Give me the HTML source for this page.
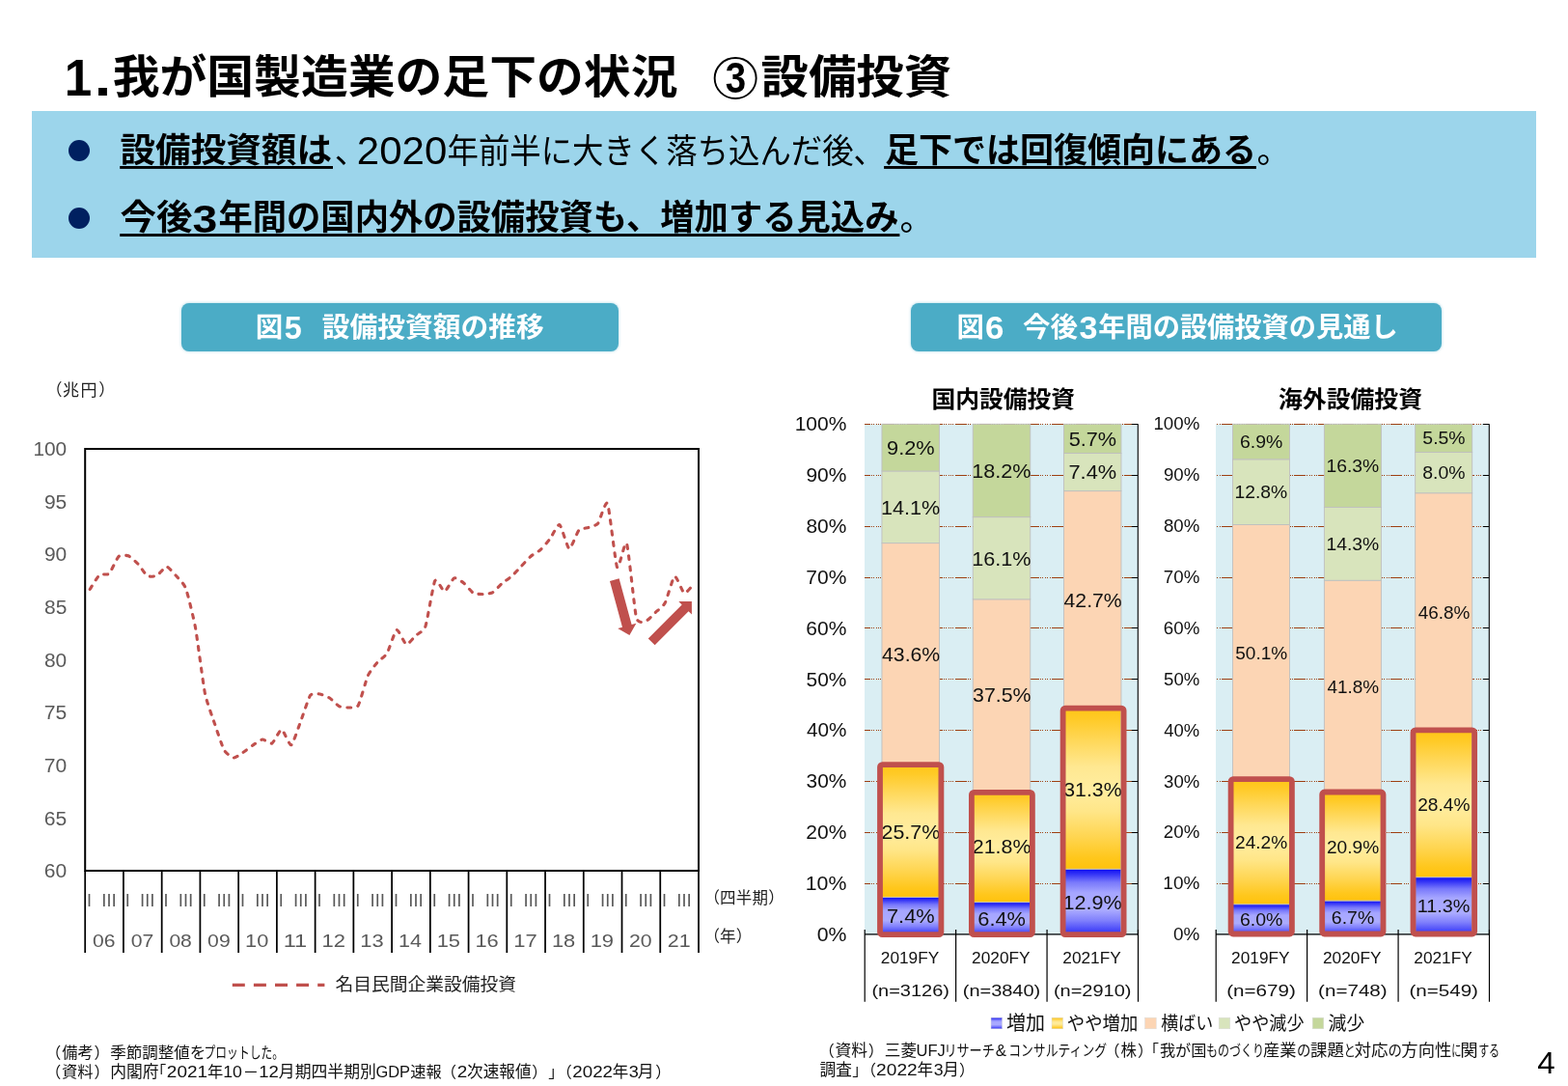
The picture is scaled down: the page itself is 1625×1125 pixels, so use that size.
<!DOCTYPE html>
<html lang="ja"><head><meta charset="utf-8"><title>1.我が国製造業の足下の状況 ③設備投資</title>
<style>
html,body{margin:0;padding:0;background:#fff}
body{width:1625px;height:1125px;overflow:hidden;font-family:"Liberation Sans","Noto Sans CJK JP",sans-serif}
.slide{position:relative;width:1625px;height:1125px;background:#fff;overflow:hidden}
.pg{position:absolute;left:0;top:0;width:1625px;height:1125px;overflow:visible;will-change:transform}
.pg text{font-family:"Liberation Sans","Noto Sans CJK JP",sans-serif;white-space:pre}
.summary{position:absolute;left:33px;top:115px;width:1559px;height:152px;background:#9CD5EB}
.dot{position:absolute;left:38.2px;width:22px;height:22px;border-radius:50%;background:#002060}
.cap{position:absolute;top:314px;height:49.5px;border-radius:8px;background:#4BACC6;box-shadow:0 0 3px rgba(75,172,198,.55)}
h1,h2,p,ul,li,figure,figcaption,footer{margin:0;padding:0;list-style:none;font-weight:normal;font-size:0}
</style></head>
<body><main class="slide">
<svg width="0" height="0" style="position:absolute"><defs><linearGradient id="gy" x1="0" y1="0" x2="0" y2="1"><stop offset="0" stop-color="#FFC619"/><stop offset="0.06" stop-color="#FFCA26"/><stop offset="0.2" stop-color="#FFD85A"/><stop offset="0.36" stop-color="#FFE891"/><stop offset="0.5" stop-color="#FFEDA0"/><stop offset="0.64" stop-color="#FFE688"/><stop offset="0.8" stop-color="#FFD550"/><stop offset="0.93" stop-color="#FFC71C"/><stop offset="1" stop-color="#FFC20C"/></linearGradient><linearGradient id="gb" x1="0" y1="0" x2="0" y2="1"><stop offset="0" stop-color="#0C0CF2"/><stop offset="0.07" stop-color="#3030F6"/><stop offset="0.2" stop-color="#7878FB"/><stop offset="0.36" stop-color="#A6A6FF"/><stop offset="0.62" stop-color="#ABABFF"/><stop offset="0.78" stop-color="#8080FC"/><stop offset="0.92" stop-color="#4A4AF9"/><stop offset="1" stop-color="#2A2AF4"/></linearGradient></defs></svg>
<h1><svg class="pg" viewBox="0 0 1625 1125" width="1625" height="1125"><g fill="#000" role="img" aria-label="1.我が国製造業の足下の状況 ③設備投資"><desc>1.我が国製造業の足下の状況 ③設備投資</desc><text x="66.78" y="98.9" font-size="53.42" textLength="28.45" lengthAdjust="spacingAndGlyphs" fill="#000" font-weight="700">1</text><text x="97.82" y="98.9" font-size="53.42" textLength="17.52" lengthAdjust="spacingAndGlyphs" fill="#000" font-weight="700">.</text><text x="116.66" y="96.27" font-size="47" textLength="585.8" lengthAdjust="spacingAndGlyphs" fill="#000" font-weight="700">我が国製造業の足下の状況</text><text x="788.53" y="96.27" font-size="47" textLength="197.7" lengthAdjust="spacingAndGlyphs" fill="#000" font-weight="700">設備投資</text><ellipse cx="762.15" cy="81.05" rx="21.5" ry="21.0" fill="none" stroke="#000" stroke-width="1.9"/><text x="751.72" y="96.3" font-size="43.54" textLength="21.37" lengthAdjust="spacingAndGlyphs" fill="#000" font-weight="700">3</text></g></svg></h1>
<section class="summary"><i class="dot" style="top:30px"></i><i class="dot" style="top:100px"></i></section>
<ul><li><svg class="pg" viewBox="0 0 1625 1125" width="1625" height="1125"><g fill="#000" role="img" aria-label="設備投資額は、2020年前半に大きく落ち込んだ後、足下では回復傾向にある。"><desc>設備投資額は、2020年前半に大きく落ち込んだ後、足下では回復傾向にある。</desc><text x="124.53" y="168.21" font-size="35.5" textLength="219.5" lengthAdjust="spacingAndGlyphs" fill="#000" font-weight="700">設備投資額は</text><text x="346.8" y="168.55" font-size="34" fill="#000">、</text><text x="369.89" y="170" font-size="40.1" textLength="93.35" lengthAdjust="spacingAndGlyphs" fill="#000">2020</text><text x="463.5" y="168.55" font-size="35" textLength="453.5" lengthAdjust="spacingAndGlyphs" fill="#000">年前半に大きく落ち込んだ後、</text><text x="917.07" y="168.21" font-size="35.5" textLength="385" lengthAdjust="spacingAndGlyphs" fill="#000" font-weight="700">足下では回復傾向にある</text><text x="1302.48" y="168.55" font-size="35" fill="#000">。</text><rect x="124.2" y="172" width="220.8" height="2.9"/><rect x="916.1" y="172" width="385.8" height="2.9"/></g></svg></li><li><svg class="pg" viewBox="0 0 1625 1125" width="1625" height="1125"><g fill="#000" role="img" aria-label="今後3年間の国内外の設備投資も、増加する見込み。"><desc>今後3年間の国内外の設備投資も、増加する見込み。</desc><text x="124.5" y="238.13" font-size="36" textLength="75" lengthAdjust="spacingAndGlyphs" fill="#000" font-weight="700">今後</text><text x="199.54" y="240.8" font-size="41.53" textLength="25.73" lengthAdjust="spacingAndGlyphs" fill="#000" font-weight="700">3</text><text x="226.45" y="238.13" font-size="36" textLength="705" lengthAdjust="spacingAndGlyphs" fill="#000" font-weight="700">年間の国内外の設備投資も、増加する見込み</text><text x="932.48" y="238.55" font-size="35" fill="#000">。</text><rect x="124.2" y="242.1" width="808.2" height="2.9"/></g></svg></li></ul>
<figure id="fig5"><figcaption><div class="cap" style="left:188px;width:453px"></div><svg class="pg" viewBox="0 0 1625 1125" width="1625" height="1125"><g fill="#fff" role="img" aria-label="図5 設備投資額の推移"><desc>図5 設備投資額の推移</desc><text x="264.66" y="348.56" font-size="28" textLength="28.5" lengthAdjust="spacingAndGlyphs" fill="#fff" font-weight="700">図</text><text x="294.8" y="350.6" font-size="32.37" textLength="18" lengthAdjust="spacingAndGlyphs" fill="#fff" font-weight="700">5</text><text x="333.85" y="348.56" font-size="28" textLength="230" lengthAdjust="spacingAndGlyphs" fill="#fff" font-weight="700">設備投資額の推移</text></g></svg></figcaption>
<svg class="pg" viewBox="0 0 1625 1125" width="1625" height="1125"><rect x="88.2" y="465" width="635.8" height="437" fill="#fff" stroke="#000" stroke-width="2"/><path d="M88.2 902V987M127.94 902V987M167.68 902V987M207.41 902V987M247.15 902V987M286.89 902V987M326.62 902V987M366.36 902V987M406.1 902V987M445.84 902V987M485.57 902V987M525.31 902V987M565.05 902V987M604.79 902V987M644.52 902V987M684.26 902V987M724 902V987" stroke="#000" stroke-width="1.75" fill="none"/><path d="M93.17 610.5C94.08 609.12 101.28 596.99 103.1 595.5C104.92 594.01 111.21 596.04 113.04 594.3C114.86 592.56 121.15 578.2 122.97 576.5C124.79 574.8 131.08 575.11 132.9 575.8C134.73 576.49 141.02 582.09 142.84 584C144.66 585.91 150.95 595.48 152.77 596.6C154.59 597.72 160.89 597.08 162.71 596.2C164.53 595.32 170.82 586.96 172.64 587C174.46 587.04 180.76 594.55 182.58 596.6C184.4 598.65 190.69 604.52 192.51 609.4C194.33 614.28 200.62 639.84 202.45 649.8C204.27 659.75 210.56 708.89 212.38 718C214.2 727.11 220.49 743.79 222.31 749.2C224.14 754.61 230.43 773.72 232.25 777C234.07 780.28 240.36 784.79 242.18 785C244 785.21 250.3 780.49 252.12 779.3C253.94 778.11 260.23 773.22 262.05 772C263.87 770.78 270.16 766.18 271.99 766C273.81 765.82 280.1 770.94 281.92 770C283.74 769.06 290.03 755.54 291.85 755.7C293.68 755.87 299.97 772.6 301.79 771.8C303.61 771 309.9 751.73 311.72 747C313.54 742.27 319.84 722.77 321.66 720.2C323.48 717.63 329.77 718.74 331.59 719C333.41 719.26 339.71 721.85 341.53 723C343.35 724.15 349.64 730.68 351.46 731.6C353.28 732.52 359.57 733.09 361.4 733C363.22 732.91 369.51 733.62 371.33 730.6C373.15 727.58 379.44 704.09 381.26 700C383.09 695.91 389.38 688.13 391.2 686C393.02 683.87 399.31 679.87 401.13 676.8C402.95 673.73 409.25 653.35 411.07 652.5C412.89 651.65 419.18 666.97 421 667.5C422.82 668.03 429.11 660 430.94 658.3C432.76 656.6 439.05 654.2 440.87 649C442.69 643.8 448.98 604.93 450.8 601.6C452.63 598.27 458.92 612.96 460.74 612.7C462.56 612.44 468.85 599.6 470.67 598.8C472.49 598 478.79 602.58 480.61 604C482.43 605.42 488.72 613.25 490.54 614.3C492.36 615.35 498.66 615.55 500.48 615.5C502.3 615.45 508.59 614.83 510.41 613.8C512.23 612.77 518.52 605.84 520.35 604.3C522.17 602.76 528.46 598.62 530.28 597C532.1 595.38 538.39 588.51 540.21 586.6C542.04 584.69 548.33 577.76 550.15 576.2C551.97 574.64 558.26 571.25 560.08 569.6C561.9 567.95 568.2 560.58 570.02 558.2C571.84 555.82 578.13 542.67 579.95 543.6C581.77 544.53 588.06 567.87 589.89 568.4C591.71 568.93 598 551.41 599.82 549.4C601.64 547.39 607.93 547.16 609.75 546.5C611.58 545.84 617.87 544.49 619.69 542.2C621.51 539.91 627.8 517.34 629.62 521.5C631.44 525.66 637.74 583.8 639.56 587.6C641.38 591.4 647.67 558.23 649.49 563C651.31 567.77 657.61 632.23 659.43 639.6C661.25 646.97 667.54 643.88 669.36 643.4C671.18 642.92 677.47 636.12 679.3 634.4C681.12 632.68 687.41 628.03 689.23 624.6C691.05 621.17 697.34 597.94 699.16 597C700.99 596.06 707.28 613.67 709.1 614.4C710.92 615.13 718.12 605.86 719.03 605" fill="none" stroke="#C0504D" stroke-width="3.1" stroke-linecap="round" stroke-linejoin="round" stroke-dasharray="4 7.3"/><polygon fill="#C0504D" points="631.98,601.91 644.97,649.66 640.25,650.95 652.4,657.9 659.35,645.75 654.62,647.03 641.62,599.29"/><polygon fill="#C0504D" points="678.64,668.32 713.57,633.23 716.93,636.58 716.9,623 703.32,623.03 706.69,626.38 671.76,661.48"/><path d="M240.8 1020.4H336.4" stroke="#C0504D" stroke-width="3.2" stroke-dasharray="13 9.1" fill="none"/><g aria-label="y-axis"><text x="34.41" y="472.05" font-size="19.62" textLength="34.8" lengthAdjust="spacingAndGlyphs" fill="#595959">100</text><text x="45.92" y="526.71" font-size="19.62" textLength="23.37" lengthAdjust="spacingAndGlyphs" fill="#595959">95</text><text x="45.92" y="581.37" font-size="19.62" textLength="23.3" lengthAdjust="spacingAndGlyphs" fill="#595959">90</text><text x="45.99" y="636.03" font-size="19.62" textLength="23.29" lengthAdjust="spacingAndGlyphs" fill="#595959">85</text><text x="45.99" y="690.69" font-size="19.62" textLength="23.22" lengthAdjust="spacingAndGlyphs" fill="#595959">80</text><text x="45.82" y="745.35" font-size="19.62" textLength="23.47" lengthAdjust="spacingAndGlyphs" fill="#595959">75</text><text x="45.82" y="800.01" font-size="19.62" textLength="23.4" lengthAdjust="spacingAndGlyphs" fill="#595959">70</text><text x="45.83" y="854.67" font-size="19.62" textLength="23.46" lengthAdjust="spacingAndGlyphs" fill="#595959">65</text><text x="45.83" y="909.33" font-size="19.62" textLength="23.39" lengthAdjust="spacingAndGlyphs" fill="#595959">60</text></g><g fill="#595959" role="img" aria-label="四半期 Ⅰ Ⅲ"><desc>Ⅰ Ⅲ</desc><text y="938.97" font-size="17.5" fill="#595959" x="83.79 104.3 123.53 144.04 163.27 183.77 203.01 223.51 242.74 263.25 282.48 302.99 322.22 342.72 361.96 382.46 401.69 422.2 441.43 461.94 481.17 501.67 520.91 541.41 560.64 581.15 600.38 620.89 640.12 660.62 679.86 700.36">ⅠⅢⅠⅢⅠⅢⅠⅢⅠⅢⅠⅢⅠⅢⅠⅢⅠⅢⅠⅢⅠⅢⅠⅢⅠⅢⅠⅢⅠⅢⅠⅢ</text></g><g aria-label="years"><text x="95.93" y="980.7" font-size="19.05" textLength="23.45" lengthAdjust="spacingAndGlyphs" fill="#595959">06</text><text x="135.66" y="980.7" font-size="19.05" textLength="23.6" lengthAdjust="spacingAndGlyphs" fill="#595959">07</text><text x="175.4" y="980.7" font-size="19.05" textLength="23.44" lengthAdjust="spacingAndGlyphs" fill="#595959">08</text><text x="215.14" y="980.7" font-size="19.05" textLength="23.53" lengthAdjust="spacingAndGlyphs" fill="#595959">09</text><text x="254.04" y="980.7" font-size="19.05" textLength="24.21" lengthAdjust="spacingAndGlyphs" fill="#595959">10</text><text x="293.76" y="980.7" font-size="19.05" textLength="24.45" lengthAdjust="spacingAndGlyphs" fill="#595959">11</text><text x="333.5" y="980.7" font-size="19.05" textLength="24.48" lengthAdjust="spacingAndGlyphs" fill="#595959">12</text><text x="373.25" y="980.7" font-size="19.05" textLength="24.33" lengthAdjust="spacingAndGlyphs" fill="#595959">13</text><text x="413.01" y="980.7" font-size="19.05" textLength="23.97" lengthAdjust="spacingAndGlyphs" fill="#595959">14</text><text x="452.72" y="980.7" font-size="19.05" textLength="24.28" lengthAdjust="spacingAndGlyphs" fill="#595959">15</text><text x="492.46" y="980.7" font-size="19.05" textLength="24.33" lengthAdjust="spacingAndGlyphs" fill="#595959">16</text><text x="532.19" y="980.7" font-size="19.05" textLength="24.48" lengthAdjust="spacingAndGlyphs" fill="#595959">17</text><text x="571.93" y="980.7" font-size="19.05" textLength="24.32" lengthAdjust="spacingAndGlyphs" fill="#595959">18</text><text x="611.67" y="980.7" font-size="19.05" textLength="24.41" lengthAdjust="spacingAndGlyphs" fill="#595959">19</text><text x="652.01" y="980.7" font-size="19.05" textLength="23.6" lengthAdjust="spacingAndGlyphs" fill="#595959">20</text><text x="691.74" y="980.7" font-size="19.05" textLength="23.82" lengthAdjust="spacingAndGlyphs" fill="#595959">21</text></g><g fill="#222" role="img" aria-label="（兆円）"><desc>（兆円）</desc><text y="410.27" font-size="17" fill="#222" x="47.5 64.91 83.55 102.19">（兆円）</text></g><g fill="#222" role="img" aria-label="（四半期）"><desc>（四半期）</desc><text y="936.37" font-size="16.5" fill="#222" x="729.6 746.02 762.74 779.46 796.18">（四半期）</text></g><g fill="#222" role="img" aria-label="（年）"><desc>（年）</desc><text y="976.37" font-size="16.5" fill="#222" x="729.6 746.05 762.85">（年）</text></g><g fill="#222" role="img" aria-label="名目民間企業設備投資"><desc>名目民間企業設備投資</desc><text x="347.49" y="1026.24" font-size="18.5" textLength="187.5" lengthAdjust="spacingAndGlyphs" fill="#222">名目民間企業設備投資</text></g></svg></figure>
<figure id="fig6"><figcaption><div class="cap" style="left:944px;width:550px"></div><svg class="pg" viewBox="0 0 1625 1125" width="1625" height="1125"><g fill="#fff" role="img" aria-label="図6 今後3年間の設備投資の見通し"><desc>図6 今後3年間の設備投資の見通し</desc><text x="991.57" y="348.56" font-size="28" textLength="28.4" lengthAdjust="spacingAndGlyphs" fill="#fff" font-weight="700">図</text><text x="1021.02" y="350.5" font-size="32.65" textLength="19.44" lengthAdjust="spacingAndGlyphs" fill="#fff" font-weight="700">6</text><text x="1060" y="348.56" font-size="28" textLength="57" lengthAdjust="spacingAndGlyphs" fill="#fff" font-weight="700">今後</text><text x="1118.42" y="350.5" font-size="32.65" textLength="19.02" lengthAdjust="spacingAndGlyphs" fill="#fff" font-weight="700">3</text><text x="1138.22" y="348.56" font-size="28" textLength="310.5" lengthAdjust="spacingAndGlyphs" fill="#fff" font-weight="700">年間の設備投資の見通し</text></g></svg></figcaption>
<svg class="pg" viewBox="0 0 1625 1125" width="1625" height="1125"><rect x="896" y="439.3" width="283.3" height="529.2" fill="#DAEEF3"/><clipPath id="cp896"><rect x="896" y="437.3" width="283.3" height="533.2"/></clipPath><path d="M789.7 915.5H1179.3M789.7 862.5H1179.3M789.7 809.5H1179.3M789.7 756.5H1179.3M789.7 703.5H1179.3M789.7 650.5H1179.3M789.7 598.5H1179.3M789.7 545.5H1179.3M789.7 492.5H1179.3M789.7 439.5H1179.3" stroke="#9E3F10" stroke-width="1" shape-rendering="crispEdges" fill="none" stroke-dasharray="11.8 1.37 1 1.37 1 1.37 1 1.37 1 1.37 1 1.37" clip-path="url(#cp896)"/><path d="M1179.3 439.3V968.5M1172.8 915.5H1179.3M1172.8 862.5H1179.3M1172.8 809.5H1179.3M1172.8 756.5H1179.3M1172.8 703.5H1179.3M1172.8 650.5H1179.3M1172.8 598.5H1179.3M1172.8 545.5H1179.3M1172.8 492.5H1179.3M1172.8 439.5H1179.3" stroke="#000" stroke-width="1.1" fill="none"/><rect x="913.95" y="929.34" width="59.5" height="39.16" fill="url(#gb)" stroke="#BFBFBF" stroke-width="0.9"/><rect x="913.95" y="793.33" width="59.5" height="136" fill="url(#gy)" stroke="#BFBFBF" stroke-width="0.9"/><rect x="913.95" y="562.6" width="59.5" height="230.73" fill="#FCD5B4" stroke="#BFBFBF" stroke-width="0.9"/><rect x="913.95" y="487.99" width="59.5" height="74.62" fill="#D8E4BC" stroke="#BFBFBF" stroke-width="0.9"/><rect x="913.95" y="439.3" width="59.5" height="48.69" fill="#C4D79B" stroke="#BFBFBF" stroke-width="0.9"/><rect x="1008.25" y="934.63" width="59.5" height="33.87" fill="url(#gb)" stroke="#BFBFBF" stroke-width="0.9"/><rect x="1008.25" y="819.27" width="59.5" height="115.37" fill="url(#gy)" stroke="#BFBFBF" stroke-width="0.9"/><rect x="1008.25" y="620.82" width="59.5" height="198.45" fill="#FCD5B4" stroke="#BFBFBF" stroke-width="0.9"/><rect x="1008.25" y="535.61" width="59.5" height="85.2" fill="#D8E4BC" stroke="#BFBFBF" stroke-width="0.9"/><rect x="1008.25" y="439.3" width="59.5" height="96.31" fill="#C4D79B" stroke="#BFBFBF" stroke-width="0.9"/><rect x="1102.45" y="900.23" width="59.5" height="68.27" fill="url(#gb)" stroke="#BFBFBF" stroke-width="0.9"/><rect x="1102.45" y="734.59" width="59.5" height="165.64" fill="url(#gy)" stroke="#BFBFBF" stroke-width="0.9"/><rect x="1102.45" y="508.63" width="59.5" height="225.97" fill="#FCD5B4" stroke="#BFBFBF" stroke-width="0.9"/><rect x="1102.45" y="469.46" width="59.5" height="39.16" fill="#D8E4BC" stroke="#BFBFBF" stroke-width="0.9"/><rect x="1102.45" y="439.3" width="59.5" height="30.16" fill="#C4D79B" stroke="#BFBFBF" stroke-width="0.9"/><path d="M896 967.8H1179.3M896.2 963V1037.8M990.63 963V1037.8M1085.07 963V1037.8M1179.5 963V1037.8" stroke="#000" stroke-width="1.2" fill="none"/><g aria-label="data labels"><text x="918.98" y="956.32" font-size="19.76" textLength="49.69" lengthAdjust="spacingAndGlyphs" fill="#111">7.4%</text><text x="913.47" y="868.74" font-size="19.76" textLength="60.74" lengthAdjust="spacingAndGlyphs" fill="#111">25.7%</text><text x="914.06" y="685.37" font-size="19.76" textLength="60.14" lengthAdjust="spacingAndGlyphs" fill="#111">43.6%</text><text x="912.9" y="532.69" font-size="19.76" textLength="61.32" lengthAdjust="spacingAndGlyphs" fill="#111">14.1%</text><text x="919.08" y="471.04" font-size="19.76" textLength="49.6" lengthAdjust="spacingAndGlyphs" fill="#111">9.2%</text><text x="1013.29" y="958.97" font-size="19.76" textLength="49.68" lengthAdjust="spacingAndGlyphs" fill="#111">6.4%</text><text x="1007.77" y="884.35" font-size="19.76" textLength="60.74" lengthAdjust="spacingAndGlyphs" fill="#111">21.8%</text><text x="1008.04" y="727.44" font-size="19.76" textLength="60.47" lengthAdjust="spacingAndGlyphs" fill="#111">37.5%</text><text x="1007.2" y="585.61" font-size="19.76" textLength="61.32" lengthAdjust="spacingAndGlyphs" fill="#111">16.1%</text><text x="1007.2" y="494.86" font-size="19.76" textLength="61.32" lengthAdjust="spacingAndGlyphs" fill="#111">18.2%</text><text x="1101.4" y="941.77" font-size="19.76" textLength="61.32" lengthAdjust="spacingAndGlyphs" fill="#111">12.9%</text><text x="1102.24" y="824.81" font-size="19.76" textLength="60.47" lengthAdjust="spacingAndGlyphs" fill="#111">31.3%</text><text x="1102.56" y="629.01" font-size="19.76" textLength="60.14" lengthAdjust="spacingAndGlyphs" fill="#111">42.7%</text><text x="1107.48" y="496.44" font-size="19.76" textLength="49.69" lengthAdjust="spacingAndGlyphs" fill="#111">7.4%</text><text x="1107.73" y="461.78" font-size="19.76" textLength="49.44" lengthAdjust="spacingAndGlyphs" fill="#111">5.7%</text></g><g fill="none" stroke="#C0504D" stroke-width="5.8"><rect x="912" y="792.2" width="63.4" height="176" rx="2.4"/><rect x="1006.9" y="820.8" width="63" height="147.4" rx="2.4"/><rect x="1101.6" y="733.6" width="63" height="234.6" rx="2.4"/></g><g aria-label="percent axis"><text x="846.67" y="975.1" font-size="19.76" textLength="30.69" lengthAdjust="spacingAndGlyphs" fill="#111">0%</text><text x="834.78" y="922.18" font-size="19.76" textLength="42.58" lengthAdjust="spacingAndGlyphs" fill="#111">10%</text><text x="835.34" y="869.26" font-size="19.76" textLength="42" lengthAdjust="spacingAndGlyphs" fill="#111">20%</text><text x="835.61" y="816.34" font-size="19.76" textLength="41.74" lengthAdjust="spacingAndGlyphs" fill="#111">30%</text><text x="835.93" y="763.42" font-size="19.76" textLength="41.41" lengthAdjust="spacingAndGlyphs" fill="#111">40%</text><text x="835.56" y="710.5" font-size="19.76" textLength="41.78" lengthAdjust="spacingAndGlyphs" fill="#111">50%</text><text x="835.33" y="657.58" font-size="19.76" textLength="42.01" lengthAdjust="spacingAndGlyphs" fill="#111">60%</text><text x="835.32" y="604.66" font-size="19.76" textLength="42.02" lengthAdjust="spacingAndGlyphs" fill="#111">70%</text><text x="835.49" y="551.74" font-size="19.76" textLength="41.85" lengthAdjust="spacingAndGlyphs" fill="#111">80%</text><text x="835.42" y="498.82" font-size="19.76" textLength="41.93" lengthAdjust="spacingAndGlyphs" fill="#111">90%</text><text x="823.7" y="445.9" font-size="19.76" textLength="53.65" lengthAdjust="spacingAndGlyphs" fill="#111">100%</text></g><g aria-label="categories"><text x="912.83" y="997.9" font-size="17.04" textLength="60.45" lengthAdjust="spacingAndGlyphs" fill="#111">2019FY</text><text x="903.46" y="1032" font-size="16.76" textLength="80.48" lengthAdjust="spacingAndGlyphs" fill="#111">(n=3126)</text><text x="1007.13" y="997.9" font-size="17.04" textLength="60.45" lengthAdjust="spacingAndGlyphs" fill="#111">2020FY</text><text x="997.76" y="1032" font-size="16.76" textLength="80.48" lengthAdjust="spacingAndGlyphs" fill="#111">(n=3840)</text><text x="1101.33" y="997.9" font-size="17.04" textLength="60.45" lengthAdjust="spacingAndGlyphs" fill="#111">2021FY</text><text x="1091.96" y="1032" font-size="16.76" textLength="80.48" lengthAdjust="spacingAndGlyphs" fill="#111">(n=2910)</text></g><rect x="1260" y="439.3" width="283.3" height="529.2" fill="#DAEEF3"/><clipPath id="cp1260"><rect x="1260" y="437.3" width="283.3" height="533.2"/></clipPath><path d="M1241.2 915.5H1543.3M1241.2 862.5H1543.3M1241.2 809.5H1543.3M1241.2 756.5H1543.3M1241.2 703.5H1543.3M1241.2 650.5H1543.3M1241.2 598.5H1543.3M1241.2 545.5H1543.3M1241.2 492.5H1543.3M1241.2 439.5H1543.3" stroke="#9E3F10" stroke-width="1" shape-rendering="crispEdges" fill="none" stroke-dasharray="11.8 1.37 1 1.37 1 1.37 1 1.37 1 1.37 1 1.37" clip-path="url(#cp1260)"/><path d="M1543.3 439.3V968.5M1536.8 915.5H1543.3M1536.8 862.5H1543.3M1536.8 809.5H1543.3M1536.8 756.5H1543.3M1536.8 703.5H1543.3M1536.8 650.5H1543.3M1536.8 598.5H1543.3M1536.8 545.5H1543.3M1536.8 492.5H1543.3M1536.8 439.5H1543.3" stroke="#000" stroke-width="1.1" fill="none"/><rect x="1277.5" y="936.75" width="59" height="31.75" fill="url(#gb)" stroke="#BFBFBF" stroke-width="0.9"/><rect x="1277.5" y="808.68" width="59" height="128.07" fill="url(#gy)" stroke="#BFBFBF" stroke-width="0.9"/><rect x="1277.5" y="543.55" width="59" height="265.13" fill="#FCD5B4" stroke="#BFBFBF" stroke-width="0.9"/><rect x="1277.5" y="475.81" width="59" height="67.74" fill="#D8E4BC" stroke="#BFBFBF" stroke-width="0.9"/><rect x="1277.5" y="439.3" width="59" height="36.51" fill="#C4D79B" stroke="#BFBFBF" stroke-width="0.9"/><rect x="1372.4" y="933.04" width="59" height="35.46" fill="url(#gb)" stroke="#BFBFBF" stroke-width="0.9"/><rect x="1372.4" y="822.44" width="59" height="110.6" fill="url(#gy)" stroke="#BFBFBF" stroke-width="0.9"/><rect x="1372.4" y="601.24" width="59" height="221.21" fill="#FCD5B4" stroke="#BFBFBF" stroke-width="0.9"/><rect x="1372.4" y="525.56" width="59" height="75.68" fill="#D8E4BC" stroke="#BFBFBF" stroke-width="0.9"/><rect x="1372.4" y="439.3" width="59" height="86.26" fill="#C4D79B" stroke="#BFBFBF" stroke-width="0.9"/><rect x="1466.7" y="908.7" width="59" height="59.8" fill="url(#gb)" stroke="#BFBFBF" stroke-width="0.9"/><rect x="1466.7" y="758.41" width="59" height="150.29" fill="url(#gy)" stroke="#BFBFBF" stroke-width="0.9"/><rect x="1466.7" y="510.74" width="59" height="247.67" fill="#FCD5B4" stroke="#BFBFBF" stroke-width="0.9"/><rect x="1466.7" y="468.41" width="59" height="42.34" fill="#D8E4BC" stroke="#BFBFBF" stroke-width="0.9"/><rect x="1466.7" y="439.3" width="59" height="29.11" fill="#C4D79B" stroke="#BFBFBF" stroke-width="0.9"/><path d="M1260 967.8H1543.3M1260.2 963V1037.8M1354.63 963V1037.8M1449.07 963V1037.8M1543.5 963V1037.8" stroke="#000" stroke-width="1.2" fill="none"/><g aria-label="data labels"><text x="1284.96" y="959.22" font-size="17.47" textLength="44.38" lengthAdjust="spacingAndGlyphs" fill="#111">6.0%</text><text x="1280.04" y="879.31" font-size="17.47" textLength="54.24" lengthAdjust="spacingAndGlyphs" fill="#111">24.2%</text><text x="1280.24" y="682.72" font-size="17.47" textLength="54.04" lengthAdjust="spacingAndGlyphs" fill="#111">50.1%</text><text x="1279.53" y="516.28" font-size="17.47" textLength="54.76" lengthAdjust="spacingAndGlyphs" fill="#111">12.8%</text><text x="1284.96" y="464.16" font-size="17.47" textLength="44.38" lengthAdjust="spacingAndGlyphs" fill="#111">6.9%</text><text x="1379.86" y="957.37" font-size="17.47" textLength="44.38" lengthAdjust="spacingAndGlyphs" fill="#111">6.7%</text><text x="1374.94" y="884.34" font-size="17.47" textLength="54.24" lengthAdjust="spacingAndGlyphs" fill="#111">20.9%</text><text x="1375.47" y="718.44" font-size="17.47" textLength="53.71" lengthAdjust="spacingAndGlyphs" fill="#111">41.8%</text><text x="1374.43" y="570" font-size="17.47" textLength="54.76" lengthAdjust="spacingAndGlyphs" fill="#111">14.3%</text><text x="1374.43" y="489.03" font-size="17.47" textLength="54.76" lengthAdjust="spacingAndGlyphs" fill="#111">16.3%</text><text x="1468.73" y="945.2" font-size="17.47" textLength="54.76" lengthAdjust="spacingAndGlyphs" fill="#111">11.3%</text><text x="1469.24" y="840.15" font-size="17.47" textLength="54.24" lengthAdjust="spacingAndGlyphs" fill="#111">28.4%</text><text x="1469.77" y="641.17" font-size="17.47" textLength="53.71" lengthAdjust="spacingAndGlyphs" fill="#111">46.8%</text><text x="1474.31" y="496.17" font-size="17.47" textLength="44.24" lengthAdjust="spacingAndGlyphs" fill="#111">8.0%</text><text x="1474.37" y="460.45" font-size="17.47" textLength="44.17" lengthAdjust="spacingAndGlyphs" fill="#111">5.5%</text></g><g fill="none" stroke="#C0504D" stroke-width="5.8"><rect x="1275.6" y="807.1" width="63.3" height="160.4" rx="2.4"/><rect x="1370.2" y="820.5" width="63.3" height="147" rx="2.4"/><rect x="1464.5" y="756.4" width="63.6" height="211.1" rx="2.4"/></g><g aria-label="percent axis"><text x="1215.96" y="974.3" font-size="17.47" textLength="27.31" lengthAdjust="spacingAndGlyphs" fill="#111">0%</text><text x="1205.36" y="921.38" font-size="17.47" textLength="37.92" lengthAdjust="spacingAndGlyphs" fill="#111">10%</text><text x="1205.86" y="868.46" font-size="17.47" textLength="37.41" lengthAdjust="spacingAndGlyphs" fill="#111">20%</text><text x="1206.09" y="815.54" font-size="17.47" textLength="37.17" lengthAdjust="spacingAndGlyphs" fill="#111">30%</text><text x="1206.38" y="762.62" font-size="17.47" textLength="36.88" lengthAdjust="spacingAndGlyphs" fill="#111">40%</text><text x="1206.06" y="709.7" font-size="17.47" textLength="37.21" lengthAdjust="spacingAndGlyphs" fill="#111">50%</text><text x="1205.85" y="656.78" font-size="17.47" textLength="37.42" lengthAdjust="spacingAndGlyphs" fill="#111">60%</text><text x="1205.84" y="603.86" font-size="17.47" textLength="37.43" lengthAdjust="spacingAndGlyphs" fill="#111">70%</text><text x="1205.99" y="550.94" font-size="17.47" textLength="37.27" lengthAdjust="spacingAndGlyphs" fill="#111">80%</text><text x="1205.93" y="498.02" font-size="17.47" textLength="37.34" lengthAdjust="spacingAndGlyphs" fill="#111">90%</text><text x="1195.48" y="445.1" font-size="17.47" textLength="47.79" lengthAdjust="spacingAndGlyphs" fill="#111">100%</text></g><g aria-label="categories"><text x="1276.13" y="997.9" font-size="17.04" textLength="60.45" lengthAdjust="spacingAndGlyphs" fill="#111">2019FY</text><text x="1271.22" y="1032" font-size="16.76" textLength="71.55" lengthAdjust="spacingAndGlyphs" fill="#111">(n=679)</text><text x="1371.03" y="997.9" font-size="17.04" textLength="60.45" lengthAdjust="spacingAndGlyphs" fill="#111">2020FY</text><text x="1366.12" y="1032" font-size="16.76" textLength="71.55" lengthAdjust="spacingAndGlyphs" fill="#111">(n=748)</text><text x="1465.33" y="997.9" font-size="17.04" textLength="60.45" lengthAdjust="spacingAndGlyphs" fill="#111">2021FY</text><text x="1460.42" y="1032" font-size="16.76" textLength="71.55" lengthAdjust="spacingAndGlyphs" fill="#111">(n=549)</text></g><g fill="#000" role="img" aria-label="国内設備投資"><desc>国内設備投資</desc><text x="965.41" y="421.82" font-size="24" textLength="148.7" lengthAdjust="spacingAndGlyphs" fill="#000" font-weight="700">国内設備投資</text></g><g fill="#000" role="img" aria-label="海外設備投資"><desc>海外設備投資</desc><text x="1324.95" y="421.82" font-size="24" textLength="149.1" lengthAdjust="spacingAndGlyphs" fill="#000" font-weight="700">海外設備投資</text></g><rect x="1027" y="1054.2" width="11.6" height="11.6" fill="url(#gb)" stroke="#D9D9D9" stroke-width="0.5"/><g fill="#111" role="img" aria-label="増加"><desc>増加</desc><text x="1042.9" y="1067.12" font-size="20" textLength="40" lengthAdjust="spacingAndGlyphs" fill="#111">増加</text></g><rect x="1090" y="1054.2" width="11.6" height="11.6" fill="url(#gy)" stroke="#D9D9D9" stroke-width="0.5"/><g fill="#111" role="img" aria-label="やや増加"><desc>やや増加</desc><text x="1105.86" y="1067.12" font-size="19.5" textLength="73.4" lengthAdjust="spacingAndGlyphs" fill="#111">やや増加</text></g><rect x="1186.6" y="1054.2" width="11.6" height="11.6" fill="#FCD5B4" stroke="#D9D9D9" stroke-width="0.5"/><g fill="#111" role="img" aria-label="横ばい"><desc>横ばい</desc><text x="1203.16" y="1067.12" font-size="19.5" textLength="54" lengthAdjust="spacingAndGlyphs" fill="#111">横ばい</text></g><rect x="1263.2" y="1054.2" width="11.6" height="11.6" fill="#D8E4BC" stroke="#D9D9D9" stroke-width="0.5"/><g fill="#111" role="img" aria-label="やや減少"><desc>やや減少</desc><text x="1279.07" y="1067.12" font-size="19.5" textLength="72.5" lengthAdjust="spacingAndGlyphs" fill="#111">やや減少</text></g><rect x="1360.2" y="1054.2" width="11.6" height="11.6" fill="#C4D79B" stroke="#D9D9D9" stroke-width="0.5"/><g fill="#111" role="img" aria-label="減少"><desc>減少</desc><text x="1376.39" y="1067.12" font-size="19.5" textLength="38" lengthAdjust="spacingAndGlyphs" fill="#111">減少</text></g></svg></figure>
<footer><svg class="pg" viewBox="0 0 1625 1125" width="1625" height="1125"><g role="img" aria-label="（備考）季節調整値をプロットした。"><desc>（備考）季節調整値をプロットした。</desc><g fill="#111"><text x="47.3" y="1096.29" font-size="16">（</text></g><g fill="#111"><text x="64.36" y="1096.29" font-size="16" textLength="32.4" lengthAdjust="spacingAndGlyphs">備考</text></g><g fill="#111"><text x="97.46" y="1096.29" font-size="16">）</text></g><g fill="#111"><text x="114.19" y="1096.29" font-size="16" textLength="99" lengthAdjust="spacingAndGlyphs">季節調整値を</text></g><g fill="#111"><text x="211.54" y="1096.29" font-size="16" textLength="82.5" lengthAdjust="spacingAndGlyphs">プロットした。</text></g></g><g role="img" aria-label="（資料）内閣府「2021年10－12月期四半期別GDP速報（2次速報値）」（2022年3月）"><desc>（資料）内閣府「2021年10－12月期四半期別GDP速報（2次速報値）」（2022年3月）</desc><g fill="#111"><text x="47.3" y="1116.19" font-size="16">（</text></g><g fill="#111"><text x="64.03" y="1116.19" font-size="16" textLength="32.6" lengthAdjust="spacingAndGlyphs">資料</text></g><g fill="#111"><text x="97.46" y="1116.19" font-size="16">）</text></g><g fill="#111"><text x="114.26" y="1116.19" font-size="16.5" textLength="50.4" lengthAdjust="spacingAndGlyphs">内閣府</text></g><g fill="#111"><text x="156.3" y="1116.19" font-size="16">「</text></g><g fill="#111"><text x="172.85" y="1115.99" font-size="16.67" textLength="42.18" lengthAdjust="spacingAndGlyphs">2021</text></g><g fill="#111"><text x="214.99" y="1116.19" font-size="16.3">年</text></g><g fill="#111"><text x="231.25" y="1115.99" font-size="16.67" textLength="19.75" lengthAdjust="spacingAndGlyphs">10</text></g><g fill="#111"><text x="251.82" y="1116.19" font-size="16.4">－</text></g><g fill="#111"><text x="268.29" y="1115.99" font-size="16.67" textLength="20.65" lengthAdjust="spacingAndGlyphs">12</text></g><g fill="#111"><text x="288.83" y="1116.19" font-size="16.5" textLength="101" lengthAdjust="spacingAndGlyphs">月期四半期別</text></g><g fill="#111"><text x="389.47" y="1115.99" font-size="16.67" textLength="35.59" lengthAdjust="spacingAndGlyphs">GDP</text></g><g fill="#111"><text x="425.33" y="1116.19" font-size="16.2" textLength="32.4" lengthAdjust="spacingAndGlyphs">速報</text></g><g fill="#111"><text x="457.1" y="1116.19" font-size="16">（</text></g><g fill="#111"><text x="473.85" y="1115.99" font-size="16.67" textLength="10.5" lengthAdjust="spacingAndGlyphs">2</text></g><g fill="#111"><text x="484.09" y="1116.19" font-size="16.5" textLength="66.4" lengthAdjust="spacingAndGlyphs">次速報値</text></g><g fill="#111"><text x="551.26" y="1116.19" font-size="16">）</text></g><g fill="#111"><text x="568.19" y="1116.19" font-size="16">」</text></g><g fill="#111"><text x="576.7" y="1116.19" font-size="16">（</text></g><g fill="#111"><text x="593.36" y="1115.99" font-size="16.67" textLength="41.68" lengthAdjust="spacingAndGlyphs">2022</text></g><g fill="#111"><text x="634.78" y="1116.19" font-size="16.5">年</text></g><g fill="#111"><text x="651.71" y="1115.99" font-size="16.67" textLength="10.09" lengthAdjust="spacingAndGlyphs">3</text></g><g fill="#111"><text x="660.7" y="1116.19" font-size="17">月</text></g><g fill="#111"><text x="679.34" y="1116.19" font-size="16">）</text></g></g><g role="img" aria-label="（資料）三菱UFJリサーチ＆コンサルティング（株）「我が国ものづくり産業の課題と対応の方向性に関する"><desc>（資料）三菱UFJリサーチ＆コンサルティング（株）「我が国ものづくり産業の課題と対応の方向性に関する</desc><g fill="#111"><text x="848.7" y="1094.49" font-size="16">（</text></g><g fill="#111"><text x="865.51" y="1094.49" font-size="16.5" textLength="33.6" lengthAdjust="spacingAndGlyphs">資料</text></g><g fill="#111"><text x="899.82" y="1094.49" font-size="16">）</text></g><g fill="#111"><text x="916.83" y="1094.49" font-size="16.5" textLength="33.2" lengthAdjust="spacingAndGlyphs">三菱</text></g><g fill="#111"><text x="949.53" y="1094.29" font-size="16.67" textLength="30.19" lengthAdjust="spacingAndGlyphs">UFJ</text></g><g fill="#111"><text x="978.38" y="1094.49" font-size="16" textLength="52.5" lengthAdjust="spacingAndGlyphs">リサーチ</text></g><g fill="#111"><text x="1031.71" y="1094.29" font-size="16.67" textLength="11.26" lengthAdjust="spacingAndGlyphs">&amp;</text></g><g fill="#111"><text x="1045.17" y="1094.49" font-size="16" textLength="102" lengthAdjust="spacingAndGlyphs">コンサルティング</text></g><g fill="#111"><text x="1144.6" y="1094.49" font-size="16">（</text></g><g fill="#111"><text x="1161.42" y="1094.49" font-size="16.5">株</text></g><g fill="#111"><text x="1178.92" y="1094.49" font-size="16">）</text></g><g fill="#111"><text x="1185" y="1094.49" font-size="16">「</text></g><g fill="#111"><text x="1201.93" y="1094.49" font-size="16.2" textLength="48.5" lengthAdjust="spacingAndGlyphs">我が国</text></g><g fill="#111"><text x="1250.06" y="1094.49" font-size="16" textLength="60" lengthAdjust="spacingAndGlyphs">ものづくり</text></g><g fill="#111"><text x="1309.06" y="1094.49" font-size="16.5" textLength="34.4" lengthAdjust="spacingAndGlyphs">産業</text></g><g fill="#111"><text x="1343.89" y="1094.49" font-size="16" textLength="14.4" lengthAdjust="spacingAndGlyphs">の</text></g><g fill="#111"><text x="1358.07" y="1094.49" font-size="16.5" textLength="34.8" lengthAdjust="spacingAndGlyphs">課題</text></g><g fill="#111"><text x="1392.49" y="1094.49" font-size="16" textLength="12.5" lengthAdjust="spacingAndGlyphs">と</text></g><g fill="#111"><text x="1403.51" y="1094.49" font-size="16.5" textLength="35.2" lengthAdjust="spacingAndGlyphs">対応</text></g><g fill="#111"><text x="1438.39" y="1094.49" font-size="16" textLength="14.4" lengthAdjust="spacingAndGlyphs">の</text></g><g fill="#111"><text x="1452.34" y="1094.49" font-size="16.5" textLength="51.9" lengthAdjust="spacingAndGlyphs">方向性</text></g><g fill="#111"><text x="1504.27" y="1094.49" font-size="16" textLength="10.2" lengthAdjust="spacingAndGlyphs">に</text></g><g fill="#111"><text x="1513.19" y="1094.49" font-size="16.5" textLength="18.4" lengthAdjust="spacingAndGlyphs">関</text></g><g fill="#111"><text x="1532.13" y="1094.49" font-size="16" textLength="22" lengthAdjust="spacingAndGlyphs">する</text></g></g><g role="img" aria-label="調査」（2022年3月）"><desc>調査」（2022年3月）</desc><g fill="#111"><text x="849.59" y="1114.49" font-size="16.5" textLength="33.4" lengthAdjust="spacingAndGlyphs">調査</text></g><g fill="#111"><text x="883.23" y="1114.49" font-size="16">」</text></g><g fill="#111"><text x="891.9" y="1114.49" font-size="16">（</text></g><g fill="#111"><text x="908.14" y="1114.29" font-size="16.67" textLength="42.52" lengthAdjust="spacingAndGlyphs">2022</text></g><g fill="#111"><text x="950.38" y="1114.49" font-size="16.5">年</text></g><g fill="#111"><text x="967.83" y="1114.29" font-size="16.67" textLength="9.85" lengthAdjust="spacingAndGlyphs">3</text></g><g fill="#111"><text x="977.06" y="1114.49" font-size="17">月</text></g><g fill="#111"><text x="993.92" y="1114.49" font-size="16">）</text></g></g><text x="1593.24" y="1111.9" font-size="31.22" textLength="18.43" lengthAdjust="spacingAndGlyphs" fill="#000">4</text></svg></footer>
</main></body></html>
